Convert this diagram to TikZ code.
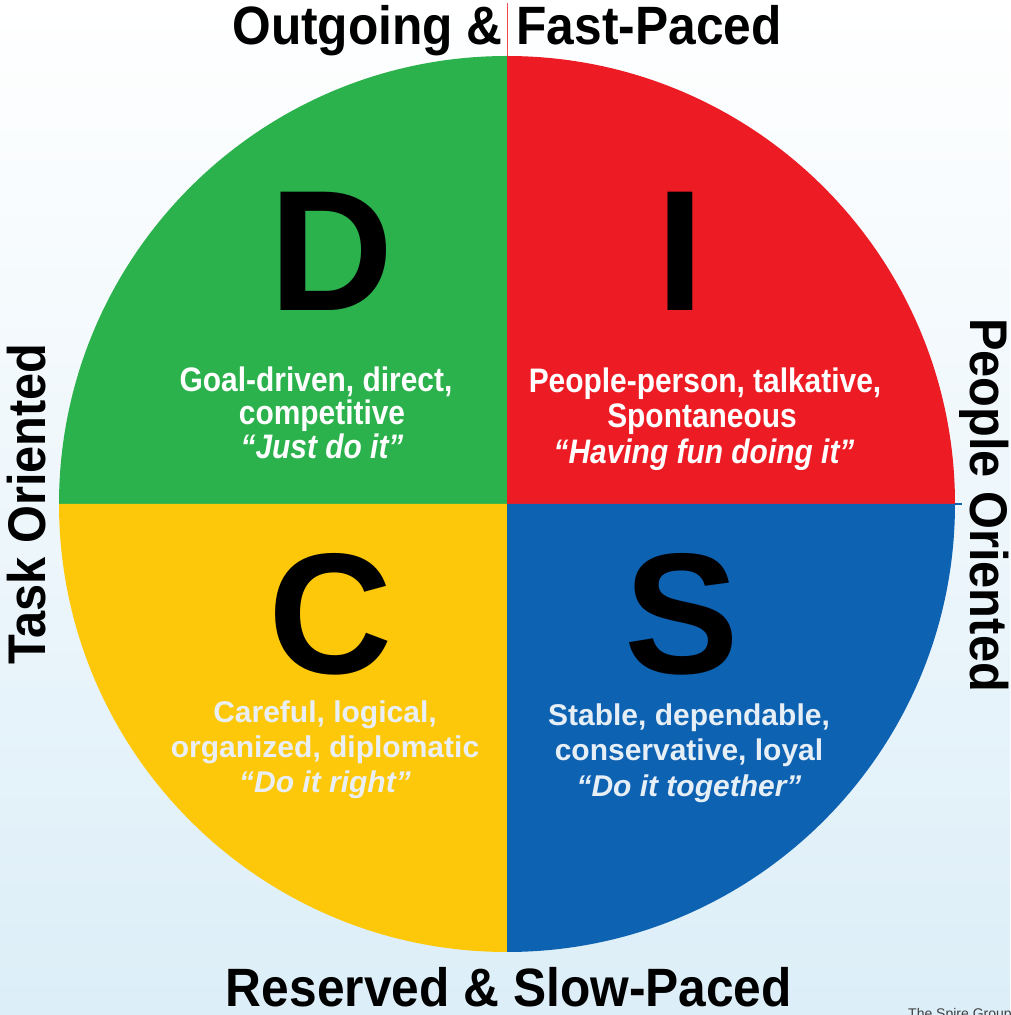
\documentclass[tikz,border=0pt]{standalone}
\usepackage{fontspec}
\setmainfont{Liberation Sans}
\newfontfamily\headfont[FakeStretch=0.92]{Liberation Sans}
\newfontfamily\narrowfont[FakeStretch=0.88]{Liberation Sans}
\definecolor{dgreen}{RGB}{43,178,76}
\definecolor{dred}{RGB}{237,28,36}
\definecolor{dyellow}{RGB}{254,200,10}
\definecolor{dblue}{RGB}{14,98,178}
\definecolor{bgblue}{RGB}{220,238,248}
\definecolor{paletext}{RGB}{233,239,244}
\definecolor{bluetext}{RGB}{230,238,246}
\begin{document}
\begin{tikzpicture}[x=1pt,y=1pt,
  heading/.style={font=\headfont\bfseries\fontsize{54}{60}\selectfont, inner sep=0, anchor=base},
  sidelabel/.style={font=\headfont\bfseries\fontsize{53}{60}\selectfont, inner sep=0, anchor=base},
  letter/.style={font=\bfseries\fontsize{172}{180}\selectfont, inner sep=0, anchor=base},
  upper/.style={font=\narrowfont\bfseries\fontsize{34}{40}\selectfont, text=white, inner sep=0, anchor=base},
  lower/.style={font=\bfseries\fontsize{30}{36}\selectfont, inner sep=0, anchor=base},
]
% page and background
\clip (0,0) rectangle (1010,1015);
\shade[top color=white, bottom color=bgblue] (0,0) rectangle (1010,1015);

% axes
\coordinate (O) at (507,511);
\coordinate (topend) at (507,1012);
\coordinate (rightend) at (962,511);
\draw[dred!80, line width=1pt] (topend) -- (O);
\draw[dblue, line width=1.2pt] (O) -- (rightend);

% four quadrants
\fill[dgreen]  (O) -- ++(-448,0) arc[start angle=180, end angle=90,  radius=448pt] -- cycle;
\fill[dred]    (O) -- ++(0,448)  arc[start angle=90,  end angle=0,   radius=448pt] -- cycle;
\fill[dyellow] (O) -- ++(0,-448) arc[start angle=270, end angle=180, radius=448pt] -- cycle;
\fill[dblue]   (O) -- ++(448,0)  arc[start angle=0,   end angle=-90, radius=448pt] -- cycle;

% outer labels
\node[heading] (top) at (507,970) {Outgoing \& Fast-Paced};
\node[heading] (bottom) at (509,9) {Reserved \& Slow-Paced};
\node[sidelabel, rotate=90] (task) at (45,511) {Task Oriented};
\node[sidelabel, rotate=-90] (people) at (970,510) {People Oriented};

% letters
\node[letter] (D) at (332,704) {D};
\node[letter] (I) at (680,704) {I};
\node[letter] (C) at (331,341) {C};
\node[letter] (S) at (682,341) {S};

% D quadrant
\node[upper] (d1) at (316,623) {Goal-driven, direct,};
\node[upper] (d2) at (322,590) {competitive};
\node[upper] (d3) at (322,556) {\itshape “Just do it”};
% I quadrant
\node[upper] (i1) at (705,622) {People-person, talkative,};
\node[upper] (i2) at (702,587) {Spontaneous};
\node[upper] (i3) at (704,551) {\itshape “Having fun doing it”};
% C quadrant
\node[lower, text=paletext] (c1) at (325,292) {Careful, logical,};
\node[lower, text=paletext] (c2) at (325,257) {organized, diplomatic};
\node[lower, text=paletext] (c3) at (325,222) {\itshape “Do it right”};
% S quadrant
\node[lower, text=bluetext] (s1) at (689,289) {Stable, dependable,};
\node[lower, text=bluetext] (s2) at (689,254) {conservative, loyal};
\node[lower, text=bluetext] (s3) at (689,218) {\itshape “Do it together”};

% credit line, running off the lower right corner
\node[font=\fontsize{14}{16}\selectfont, text=black!75, inner sep=0, anchor=base west] (credit) at (908,-3) {The Spire Group};
\end{tikzpicture}
\end{document}
